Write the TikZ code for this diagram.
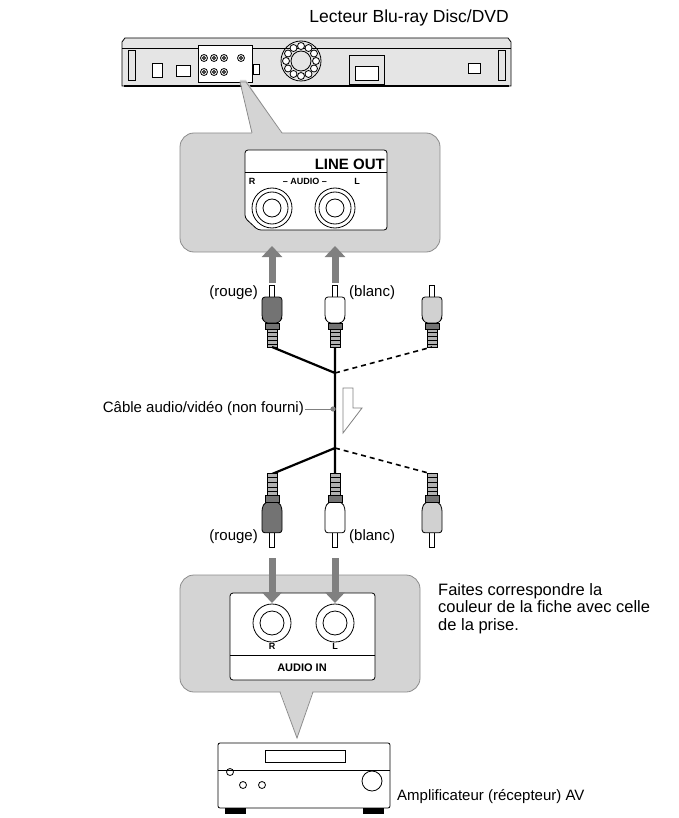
\documentclass[tikz,border=0pt]{standalone}
\usepackage{fontspec}
\setmainfont{Liberation Sans}
\usetikzlibrary{positioning,calc,arrows.meta}
\definecolor{mgray}{gray}{0.83}
\definecolor{mdark}{gray}{0.45}
\definecolor{mlight}{gray}{0.82}
\tikzstyle{l1}=[line width=0.8]
\tikzstyle{callout}=[l1, draw=gray!90, fill=mgray, rounded corners=14pt]
\tikzstyle{panel}=[l1, fill=white, rounded corners=3pt]
\tikzstyle{cable}=[line width=2.2, black]
\tikzstyle{dcable}=[line width=1.6, black, dash pattern=on 5pt off 4pt]
\tikzstyle{push}=[line width=7, draw=gray, -{Triangle[length=11pt,width=20pt]}]
\tikzstyle{txt}=[font=\fontsize{15}{17}\selectfont, inner sep=1pt]
\tikzstyle{lbl}=[font=\bfseries\fontsize{11}{12}\selectfont, inner sep=0pt]
\tikzstyle{slbl}=[font=\bfseries\fontsize{9}{10}\selectfont, inner sep=0pt]
% plug: #1 x, #2 y of pin tip, #3 fill, #4 direction (1 down, -1 up)
\newcommand{\rcaplug}[4]{
  \begin{scope}[shift={(#1,#2)}, yscale=#4]
    \draw[l1, fill=white] (-2.5,0) rectangle (2.5,12);
    \draw[l1, fill=#3, rounded corners=3pt] (-10,12) -- (-10,33) -- (-7,38) -- (7,38) -- (10,33) -- (10,12) -- cycle;
    \draw[l1, fill=mdark] (-7,38) rectangle (7,44);
    \draw[l1, fill=gray!60] (-5,44) rectangle (5,62);
    \foreach \r in {47,51,55,59} \draw[line width=0.6] (-5,\r) -- (5,\r);
  \end{scope}}
\newcommand{\jack}[3]{
  \draw[l1, fill=white] (#1,#2) circle (#3);
  \draw[l1] (#1,#2) circle (#3-4);
  \draw[l1] (#1,#2) circle (#3*0.45);}
\begin{document}
\begin{tikzpicture}[x=1pt, y=-1pt]
    \useasboundingbox (0,0) rectangle (678,818);

    % player
    \node (title) [txt, anchor=east, font=\fontsize{17.5}{19}\selectfont] at (510,18) {Lecteur Blu-ray Disc/DVD};
    \draw[l1, fill=mgray!60] (122,42) -- (125,38) -- (508,38) -- (511,42) -- (511,86) -- (122,86) -- cycle;
    \draw[l1] (122,48) -- (511,48);
    \draw[line width=2] (124,86) -- (509,86);
    \draw[l1] (128,50) rectangle (135,80) (498,50) rectangle (505,80);
    \draw[l1, fill=white] (198,45) rectangle (252,82);
    \draw[l1, fill=white] (152,63) rectangle (162,77);
    \draw[l1, fill=white] (176,65) rectangle (190,76);
    \foreach \px/\py in {204/58,214/58,224/58,241/58,204/72,214/72,224/72}
        \draw[l1] (\px,\py) circle (3.5) (\px,\py) circle (1.5);
    \draw[l1, fill=white] (253,64) rectangle (259,74);
    \draw[l1] (301,61) circle (20) (301,61) circle (10);
    \foreach \a in {0,30,...,330} \draw[l1, fill=white] ($(301,61)+(\a:15)$) circle (3.5);
    \draw[l1] (349,55) rectangle (384,84);
    \draw[l1, fill=white] (355,66) rectangle (378,80);
    \draw[l1, fill=white] (468,63) rectangle (480,73);

    % line out callout
    \draw[callout] (180,133) rectangle (440,252);
    \fill[mgray] (240,80) -- (246,80) -- (282,134) -- (252,134) -- cycle;
    \draw[l1, gray!90] (252,133) -- (240,82) -- (246,82) -- (282,133);
    \draw[panel] (245,150) -- (387,150) -- (387,230) -- (258,230) -- (245,218) -- cycle;
    \draw[l1] (245,172) -- (387,172);
    \node (lineout) [anchor=south east, inner sep=0pt, font=\bfseries\fontsize{15}{16}\selectfont] at (385,170) {LINE OUT};
    \node (outR) [slbl] at (252,181) {R};
    \node (outA) [slbl] at (305,181) {– AUDIO –};
    \node (outL) [slbl] at (357,181) {L};
    \jack{272}{208}{20}
    \jack{335}{208}{20}
    \coordinate (jr) at (272,246); \coordinate (jl) at (335,246);
    \draw[push] (272,283) -- (jr);
    \draw[push] (335,283) -- (jl);

    % top plugs
    \rcaplug{272}{285}{mdark}{1}
    \rcaplug{335}{285}{white}{1}
    \rcaplug{432}{285}{mlight}{1}
    \node (rouge1) [txt, anchor=east] at (259,293) {(rouge)};
    \node (blanc1) [txt, anchor=west] at (348,293) {(blanc)};

    % cable
    \coordinate (pr) at (272,347); \coordinate (pw) at (335,347); \coordinate (pg) at (432,347);
    \coordinate (qr) at (272,474); \coordinate (qw) at (335,474); \coordinate (qg) at (432,474);
    \coordinate (ju) at (335,373); \coordinate (jd) at (335,448);
    \draw[cable] (pr) -- (ju) (pw) -- (qw) (jd) -- (qr);
    \draw[dcable] (ju) -- (pg) (jd) -- (qg);
    \coordinate (dot) at (333,409);
    \node (cablelbl) [txt, anchor=east] at (305,409) {Câble audio/vidéo (non fourni)};
    \draw[line width=1, gray] (cablelbl) -- (dot);
    \fill[gray] (dot) circle (2.6);
    \draw[l1, gray] (343,388) -- (353,388) -- (353,408) -- (362,408) -- (343,433) -- cycle;

    % bottom plugs
    \rcaplug{272}{547}{mdark}{-1.18}
    \rcaplug{335}{547}{white}{-1.18}
    \rcaplug{432}{547}{mlight}{-1.18}
    \node (rouge2) [txt, anchor=east] at (259,537) {(rouge)};
    \node (blanc2) [txt, anchor=west] at (348,537) {(blanc)};

    % audio in callout
    \draw[callout] (180,575) rectangle (420,692);
    \fill[mgray] (280,690) -- (313,690) -- (297,738) -- cycle;
    \draw[l1, gray!90] (280,692) -- (297,738) -- (313,692);
    \draw[panel] (230,593) rectangle (375,680);
    \draw[l1] (230,655) -- (375,655);
    \node (audioin) [lbl] at (302,668) {AUDIO IN};
    \node (inR) [slbl] at (272,646) {R};
    \node (inL) [slbl] at (335,646) {L};
    \draw[l1, fill=white] (272,623) circle (19) (272,623) circle (12);
    \draw[l1, fill=white] (335,623) circle (19) (335,623) circle (12);
    \coordinate (ir) at (272,603); \coordinate (il) at (335,603);
    \draw[push] (272,558) -- (ir);
    \draw[push] (335,558) -- (il);
    \node (hint) [anchor=north west, align=left, inner sep=0pt, font=\fontsize{16.5}{17.5}\selectfont] at (438,583) {Faites correspondre la\\couleur de la fiche avec celle\\de la prise.};

    % amplifier
    \draw[l1, fill=white, rounded corners=2pt] (218,743) rectangle (390,808);
    \draw[l1] (265,750) rectangle (345,762);
    \draw[l1] (218,770) -- (390,770);
    \draw[l1] (230,772) circle (3.5);
    \draw[l1] (243,785) circle (3.5) (262,785) circle (3.5);
    \draw[l1] (372,781) circle (10);
    \draw[l1, fill=black] (225,808) rectangle (245,813) (363,808) rectangle (383,813);
    \node (amp) [txt, anchor=west] at (396,797) {Amplificateur (récepteur) AV};
\end{tikzpicture}
\end{document}
